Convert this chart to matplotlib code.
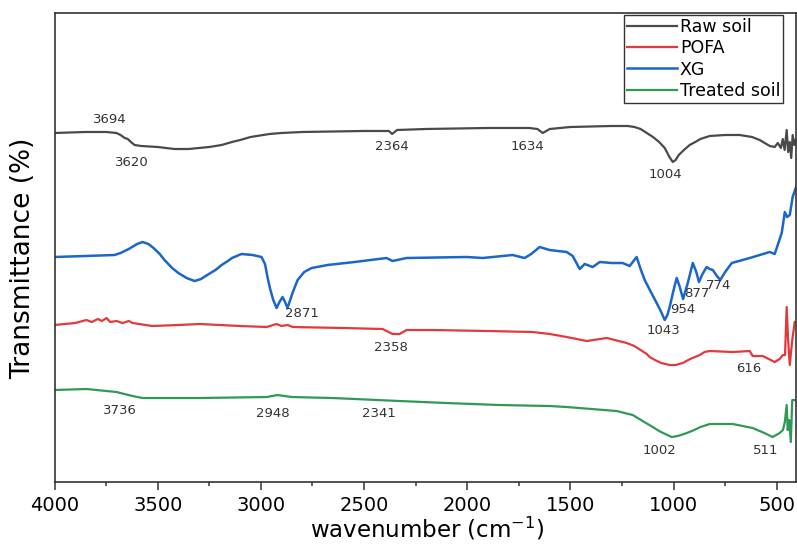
import numpy as np
import matplotlib.pyplot as plt

# FTIR spectra (transmittance in arbitrary offset units)
raw_wn = [4000, 3850, 3748, 3700, 3680, 3660, 3645, 3630, 3612, 3580, 3500, 3420,
          3394, 3350, 3300, 3250, 3190, 3140, 3100, 3050, 2958, 2900, 2800, 2500,
          2380, 2364, 2340, 2200, 1900, 1700, 1660, 1634, 1600, 1500, 1300, 1222,
          1190, 1160, 1130, 1100, 1070, 1043, 1020, 1004, 990, 975, 950, 922, 895,
          870, 825, 750, 680, 620, 583, 534, 510, 495, 480, 471, 462, 452, 445,
          437, 430, 423, 415, 408]
raw_t = [349, 350, 350, 349, 347, 344, 343, 340, 337, 336, 335, 333,
         333, 333, 334, 335, 337, 340, 342, 345, 348, 349, 350, 351,
         351, 348, 352, 353, 354, 354, 353, 349, 353, 355, 356, 356,
         355, 353, 349, 345, 340, 334, 325, 320, 322, 327, 332, 337, 340,
         343, 346, 347, 347, 345, 342, 336, 335, 339, 334, 343, 332, 352, 330,
         340, 324, 347, 337, 342]

xg_wn = [4000, 3850, 3709, 3680, 3640, 3600, 3573, 3545, 3520, 3490, 3467, 3430,
         3400, 3360, 3321, 3290, 3260, 3220, 3190, 3160, 3140, 3094, 3040, 2997,
         2980, 2968, 2955, 2940, 2924, 2910, 2895, 2883, 2871, 2858, 2845, 2822,
         2790, 2754, 2677, 2546, 2391, 2362, 2294, 2003, 1925, 1780, 1722, 1690,
         1649, 1601, 1518, 1489, 1455, 1431, 1392, 1358, 1300, 1247, 1213, 1179,
         1160, 1140, 1110, 1082, 1060, 1043, 1030, 1019, 1000, 985, 970, 954,
         930, 907, 890, 877, 860, 840, 825, 810, 790, 774, 750, 718, 631, 534,
         510, 476, 461, 450, 437, 423, 403]
xg_t = [225, 226, 227, 229, 233, 238, 240, 238, 234, 228, 222, 214,
        209, 204, 201, 203, 207, 212, 217, 221, 224, 228, 227, 225,
        218, 205, 193, 182, 174, 180, 185, 180, 174, 182, 190, 202,
        210, 214, 217, 220, 224, 221, 224, 225, 224, 227, 224, 228,
        235, 232, 230, 226, 213, 218, 215, 220, 219, 219, 216, 225,
        213, 202, 190, 179, 170, 162, 167, 175, 192, 204, 195, 183,
        200, 219, 210, 200, 208, 215, 213, 212, 206, 202, 210, 219, 224, 230,
        228, 249, 270, 265, 267, 285, 297]

pofa_wn = [4000, 3900, 3845, 3820, 3790, 3770, 3748, 3730, 3700, 3670, 3640, 3622,
           3525, 3400, 3297, 3100, 2972, 2924, 2900, 2870, 2846, 2600, 2410, 2362,
           2328, 2294, 2168, 1900, 1683, 1600, 1518, 1421, 1324, 1227, 1190, 1160,
           1130, 1116, 1090, 1060, 1019, 990, 956, 920, 873, 850, 825, 713, 631,
           617, 568, 510, 486, 471, 460, 452, 445, 437, 425, 413]
pofa_t = [157, 159, 162, 160, 163, 161, 164, 160, 161, 159, 161, 159,
          156, 157, 158, 156, 155, 158, 156, 157, 155, 154, 153, 148,
          148, 152, 152, 151, 150, 148, 145, 141, 144, 139, 136, 132,
          128, 125, 122, 119, 117, 117, 119, 123, 127, 130, 131, 130, 131,
          126, 126, 120, 123, 127, 127, 175, 142, 117, 142, 160]

treated_wn = [4000, 3845, 3748, 3700, 3622, 3573, 3300, 2972, 2919, 2850, 2652,
              2328, 2100, 1843, 1600, 1518, 1276, 1198, 1150, 1101, 1070, 1040,
              1009, 980, 936, 900, 870, 825, 713, 617, 560, 520, 486, 470, 461,
              452, 447, 440, 432, 425, 413]
treated_t = [92, 93, 91, 90, 86, 84, 84, 85, 87, 85, 84,
             81, 79, 77, 76, 75, 71, 67, 61, 55, 51, 48,
             45, 46, 49, 52, 55, 58, 58, 54, 49, 45, 49, 52, 60,
             77, 52, 62, 40, 82, 82]

# peak labels
peak_labels = ['3694', '3620', '2364', '1634', '1004',
               '2871', '954', '877', '774', '1043',
               '2358', '616',
               '3736', '2948', '2341', '1002', '511']
peak_x = [3731, 3625, 2367, 1709, 1042,
          2803, 955, 887, 781, 1051,
          2372, 635,
          3683, 2943, 2426, 1070, 553]
peak_y = [362, 319, 335, 335, 307,
          169, 173, 189, 197, 152,
          135, 114,
          72, 69, 69, 32, 32]

plt.rcParams['font.family'] = 'DejaVu Sans'

fig = plt.figure(figsize=(7.97, 5.57), dpi=100)
ax = fig.add_axes([0.0684, 0.1346, 0.9303, 0.8421])

ax.plot(raw_wn, raw_t, color='#4a4a4a', lw=1.6, label='Raw soil')
ax.plot(pofa_wn, pofa_t, color='#e3393b', lw=1.6, label='POFA')
ax.plot(xg_wn, xg_t, color='#1a66c9', lw=1.8, label='XG')
ax.plot(treated_wn, treated_t, color='#2f9a57', lw=1.6, label='Treated soil')

for s, x, y in zip(peak_labels, peak_x, peak_y):
    ax.text(x, y, s, fontsize=9.5, color='#333333', ha='center', va='center')

ax.set_xlim(4000, 407)
ax.set_ylim(0, 469)
ax.set_xticks([4000, 3500, 3000, 2500, 2000, 1500, 1000, 500])
ax.set_xticks(np.arange(3750, 400, -500), minor=True)
ax.set_yticks([])
ax.tick_params(axis='x', which='major', length=6, width=1.1, labelsize=14, pad=4,
               color='#333333', direction='out')
ax.tick_params(axis='x', which='minor', length=3, width=1.1, color='#333333')
for sp in ax.spines.values():
    sp.set_linewidth(1.2)
    sp.set_color('#333333')

ax.set_xlabel('wavenumber (cm$^{-1}$)', fontsize=16.5)
ax.set_ylabel('Transmittance (%)', fontsize=19)
ax.xaxis.set_label_coords(0.502, -0.07)
ax.yaxis.set_label_coords(-0.025, 0.478)

leg = ax.legend(loc='upper right', bbox_to_anchor=(0.9825, 0.9957), borderaxespad=0,
                fontsize=12.5, frameon=True, fancybox=False, framealpha=1,
                edgecolor='#333333', handlelength=2.9, handletextpad=0.15,
                labelspacing=0.2, borderpad=0.15)
leg.get_frame().set_linewidth(1.0)

fig.savefig('out.png', dpi=100)
